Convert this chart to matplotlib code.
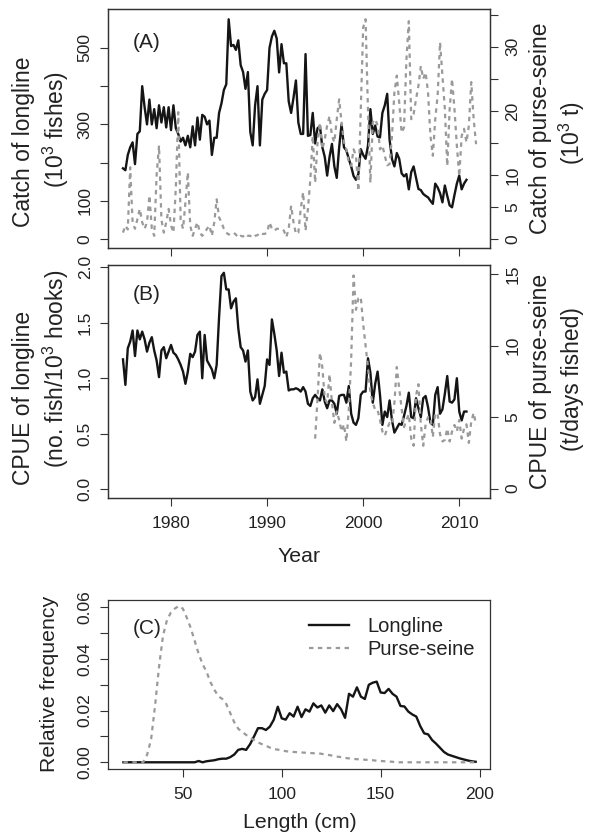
import numpy as np
import matplotlib
matplotlib.use('Agg')
import matplotlib.pyplot as plt

plt.rcParams['font.family'] = ['Liberation Sans', 'DejaVu Sans']
plt.rcParams['mathtext.fontset'] = 'custom'
plt.rcParams['mathtext.rm'] = 'Liberation Sans'
plt.rcParams['mathtext.default'] = 'regular'

# quarterly series, first quarter of 1975 onwards
catch_ll = [185, 180, 220, 240, 253, 196, 275, 282, 400, 345, 300, 365, 300, 340, 290, 350,
            305, 345, 292, 345, 285, 350, 290, 275, 255, 265, 245, 270, 240, 295, 245, 318,
            260, 325, 320, 300, 310, 220, 265, 265, 330, 355, 390, 405, 575, 505, 508, 495,
            520, 455, 437, 393, 437, 280, 245, 350, 400, 245, 365, 380, 390, 500, 530, 545,
            525, 436, 510, 460, 460, 360, 330, 370, 415, 305, 275, 275, 484, 270, 272, 330,
            250, 290, 295, 240, 215, 166, 215, 249, 190, 160, 240, 300, 240, 232, 210, 190,
            165, 155, 170, 235, 220, 210, 244, 340, 275, 297, 268, 266, 330, 350, 380, 260,
            209, 190, 225, 210, 172, 164, 170, 130, 175, 190, 160, 131, 128, 118, 113, 109,
            100, 92, 145, 135, 120, 96, 140, 113, 88, 83, 115, 145, 166, 130, 145, 155]

catch_ps = [1.0, 2.1, 1.5, 11.2, 2.6, 1.6, 3.1, 4.7, 2.6, 1.6, 2.6, 6.8, 1.6, 0.5, 10.0, 14.6,
            3.0, 1.0, 2.6, 4.7, 2.1, 1.0, 8.0, 19.8, 3.0, 1.6, 5.7, 10.4, 2.1, 0.5, 1.6, 2.6,
            1.0, 0.5, 1.0, 1.6, 2.1, 0.5, 2.6, 6.2, 3.4, 2.6, 1.6, 1.0, 0.7, 0.8, 1.0, 0.7,
            0.2, 0.5, 0.4, 0.8, 0.5, 0.5, 0.2, 0.5, 0.6, 1.0, 0.8, 0.8, 1.0, 2.6, 1.6, 1.3,
            1.6, 1.6, 1.6, 1.3, 0.3, 1.6, 5.2, 2.6, 0.8, 1.0, 4.7, 7.3, 1.3, 4.7, 9.3, 16.1,
            8.8, 15.1, 18.2, 14.0, 15.6, 17.7, 19.2, 16.1, 15.1, 18.7, 21.8, 18.2, 15.1, 14.0, 12.0, 11.4,
            14.0, 13.0, 7.5, 20.0, 33.0, 34.3, 20.0, 8.8, 18.2, 18.7, 17.7, 14.0, 14.6, 13.0, 11.5, 11.7,
            16.1, 22.9, 25.5, 21.3, 16.6, 17.4, 28.0, 34.0, 18.7, 19.5, 21.8, 23.9, 27.0, 25.0, 26.0, 22.9,
            16.1, 13.0, 18.7, 22.4, 30.7, 25.5, 20.3, 11.4, 20.3, 25.0, 20.3, 14.6, 9.8, 16.1, 17.2, 15.1,
            17.7, 24.5, 18.7, 14.8]

cpue_ll = [1.17, 0.94, 1.27, 1.33, 1.43, 1.20, 1.43, 1.35, 1.42, 1.35, 1.24, 1.32, 1.37, 1.25, 1.16, 1.01,
           1.25, 1.28, 1.18, 1.24, 1.30, 1.23, 1.21, 1.17, 1.12, 1.06, 0.95, 1.06, 1.22, 1.19, 1.24, 1.39,
           1.42, 1.00, 1.39, 1.16, 1.12, 1.08, 1.00, 1.12, 1.55, 1.92, 1.95, 1.80, 1.80, 1.63, 1.69, 1.72,
           1.45, 1.28, 1.25, 1.15, 1.25, 0.88, 0.80, 0.83, 0.99, 0.77, 0.85, 0.93, 1.17, 1.12, 1.53, 1.40,
           1.25, 1.02, 1.23, 1.05, 1.06, 0.89, 0.90, 0.90, 0.91, 0.90, 0.88, 0.92, 0.88, 0.77, 0.75, 0.82,
           0.85, 0.82, 0.80, 0.90, 0.79, 0.73, 0.80, 0.80, 0.77, 0.68, 0.84, 0.85, 0.85, 0.78, 0.93, 0.68,
           0.60, 0.58, 0.64, 0.85, 0.88, 0.88, 1.18, 1.05, 0.78, 0.95, 1.06, 0.85, 0.58, 0.70, 0.65, 0.80,
           0.62, 0.51, 0.55, 0.59, 0.58, 0.66, 0.75, 0.87, 0.65, 0.64, 0.82, 0.73, 0.65, 0.82, 0.84, 0.74,
           0.60, 0.58, 0.85, 0.92, 0.68, 0.72, 0.86, 1.02, 0.79, 0.78, 0.81, 1.00, 0.70, 0.62, 0.70, 0.70]

# purse-seine CPUE starts in 1995
cpue_ps = [3.5, 6.3, 9.5, 8.5, 6.3, 6.0, 8.0, 6.0, 4.6, 5.4, 4.8, 4.0, 4.5, 3.3, 5.5, 9.0,
           14.9, 12.5, 13.3, 13.4, 11.5, 10.0, 8.5, 6.7, 6.0, 5.5, 5.5, 4.8, 4.0, 3.7, 4.2, 4.6,
           4.5, 6.0, 8.5, 7.0, 5.6, 4.3, 4.8, 5.2, 3.5, 3.0, 6.5, 7.3, 4.5, 3.0, 4.5, 5.0,
           5.0, 3.6, 5.3, 5.2, 3.8, 3.3, 3.4, 4.2, 3.3, 4.0, 4.45, 4.0, 4.8, 3.5, 4.2, 4.5,
           3.2, 4.7, 5.3, 4.45]

# length frequency, 2 cm bins from 20 cm
freq_ll = [0] * 19 + [0.0005, 0.0, 0.0004, 0.0006, 0.0008, 0.0012, 0.0014, 0.0014, 0.0020, 0.0030,
                      0.0048, 0.0052, 0.0048, 0.0070, 0.0100, 0.0132, 0.0132, 0.0125, 0.0138, 0.0165,
                      0.0215, 0.0170, 0.0165, 0.0190, 0.0177, 0.0215, 0.0175, 0.0205, 0.0196, 0.0228,
                      0.0212, 0.0220, 0.0192, 0.0220, 0.0198, 0.0225, 0.0205, 0.0172, 0.0265, 0.0254,
                      0.0290, 0.0254, 0.0245, 0.0300, 0.0308, 0.0312, 0.0270, 0.0268, 0.0284, 0.0265,
                      0.0254, 0.0218, 0.0216, 0.0196, 0.0185, 0.0177, 0.0140, 0.0112, 0.0108, 0.0086,
                      0.0072, 0.0056, 0.0040, 0.0030, 0.0025, 0.0020, 0.0015, 0.0011, 0.0007, 0.0004,
                      0.0002]
freq_ps = [0] * 6 + [0.003, 0.009, 0.022, 0.037, 0.049, 0.055, 0.058, 0.0595, 0.0605, 0.0595,
                     0.056, 0.052, 0.047, 0.042, 0.038, 0.035, 0.031, 0.028, 0.0255, 0.0245,
                     0.0225, 0.019, 0.0155, 0.0130, 0.0118, 0.0106, 0.0095, 0.0086, 0.0077, 0.0070,
                     0.0064, 0.0057, 0.0051, 0.0049, 0.0047, 0.0043, 0.0041, 0.0040, 0.0039, 0.0038,
                     0.0037, 0.0036, 0.0035, 0.0035, 0.0033, 0.0030, 0.0028, 0.0025, 0.0022, 0.0020,
                     0.0017, 0.0015, 0.0013, 0.0012, 0.0011, 0.0010, 0.0009, 0.0008, 0.0006, 0.0005,
                     0.0004, 0.0003, 0.0002] + [0] * 21

year_ll = 1975 + np.arange(len(catch_ll)) / 4
year_ps = 1975 + np.arange(len(catch_ps)) / 4
year_cpue_ps = 1995 + np.arange(len(cpue_ps)) / 4
length = np.arange(20, 200, 2)

W, H = 593, 839
BLACK = '#151515'
GREY = '#9a9a9a'
DOT = (0, (2, 2))

fig = plt.figure(figsize=(W / 100, H / 100), dpi=100)


def box(l, t, r, b):
    return [l / W, 1 - b / H, (r - l) / W, (b - t) / H]


def ftext(px, py, s, **kw):
    fig.text(px / W, 1 - py / H, s, color='#222222', **kw)


def style(ax, vertical=True):
    for s in ax.spines.values():
        s.set_linewidth(0.9)
        s.set_color('#333333')
    ax.tick_params(direction='out', length=6, width=0.8, color='#333333',
                   labelcolor='#222222', labelsize=12.5, pad=5)
    ax.tick_params(axis='x', pad=7)
    if vertical:
        for lab in ax.get_yticklabels():
            lab.set_rotation(90)
            lab.set_va('center')


# (A) catch
axA = fig.add_axes(box(108, 9, 490, 248))
axA.plot(year_ll, catch_ll, color=BLACK, lw=1.7)
axA.set_xlim(1973.44, 2013.2)
axA.set_ylim(-23.5, 602)
axA.set_xticks([1980, 1990, 2000, 2010])
axA.tick_params(labelbottom=False)
axA.set_yticks([0, 100, 200, 300, 400, 500])
axA.set_yticklabels(['0', '100', '', '300', '', '500'])
style(axA)
axA2 = axA.twinx()
axA2.plot(year_ps, catch_ps, color=GREY, lw=1.6, linestyle=DOT)
axA2.set_ylim(-1.4, 35.9)
axA2.set_yticks([0, 5, 10, 15, 20, 25, 30, 35])
axA2.set_yticklabels(['0', '5', '10', '', '20', '', '30', ''])
style(axA2)

# (B) CPUE
axB = fig.add_axes(box(108, 265, 490, 497.7))
axB.plot(year_ll, cpue_ll, color=BLACK, lw=1.7)
axB.set_xlim(1973.44, 2013.2)
axB.set_ylim(-0.076, 2.02)
axB.set_xticks([1980, 1990, 2000, 2010])
axB.set_yticks([0, 0.5, 1.0, 1.5, 2.0])
axB.set_yticklabels(['0.0', '0.5', '1.0', '1.5', '2.0'])
style(axB)
axB2 = axB.twinx()
axB2.plot(year_cpue_ps, cpue_ps, color=GREY, lw=1.6, linestyle=DOT)
axB2.set_ylim(-0.63, 15.63)
axB2.set_yticks([0, 5, 10, 15])
style(axB2)
for lab in axB2.get_yticklabels():
    lab.set_rotation(90)
    lab.set_va('center')

# (C) length frequency
axC = fig.add_axes(box(108, 600, 490.3, 768.7))
axC.plot(length, freq_ll, color=BLACK, lw=1.7, label='Longline')
axC.plot(length, freq_ps, color=GREY, lw=1.6, linestyle=DOT, label='Purse-seine')
axC.set_xlim(12.2, 205.4)
axC.set_ylim(-0.00248, 0.0628)
axC.set_xticks([50, 100, 150, 200])
axC.set_yticks([0, 0.01, 0.02, 0.03, 0.04, 0.05, 0.06])
axC.set_yticklabels(['0.00', '', '0.02', '', '0.04', '', '0.06'])
style(axC)
axC.legend(loc='upper left', bbox_to_anchor=(309 / W, 1 - 617 / H),
           bbox_transform=fig.transFigure, frameon=False, fontsize=14.5,
           handlelength=2.0, handletextpad=0.9, labelspacing=0.2,
           borderpad=0, borderaxespad=0, labelcolor='#222222')

# texts
ftext(133, 43, '(A)', fontsize=15, ha='left', va='center')
ftext(133, 294, '(B)', fontsize=15, ha='left', va='center')
ftext(133, 629, '(C)', fontsize=15, ha='left', va='center')

ftext(24, 142, 'Catch of longline', fontsize=16.5, rotation=90, ha='center', va='center')
ftext(56, 129, '(10$^3$ fishes)', fontsize=16.5, rotation=90, ha='center', va='center')
ftext(540, 128, 'Catch of purse-seine', fontsize=16.5, rotation=90, ha='center', va='center')
ftext(572, 133, '(10$^3$ t)', fontsize=16.5, rotation=90, ha='center', va='center')

ftext(24, 398, 'CPUE of longline', fontsize=16.5, rotation=90, ha='center', va='center')
ftext(56, 369, '(no. fish/10$^3$ hooks)', fontsize=16.5, rotation=90, ha='center', va='center')
ftext(540, 381, 'CPUE of purse-seine', fontsize=16.5, rotation=90, ha='center', va='center')
ftext(572, 379, '(t/days fished)', fontsize=16.5, rotation=90, ha='center', va='center')

ftext(299, 557, 'Year', fontsize=15.3, ha='center', va='center')
ftext(50, 684, 'Relative frequency', fontsize=15.3, rotation=90, ha='center', va='center')
ftext(300, 822, 'Length (cm)', fontsize=15.3, ha='center', va='center')

fig.savefig('out.png', dpi=100)
